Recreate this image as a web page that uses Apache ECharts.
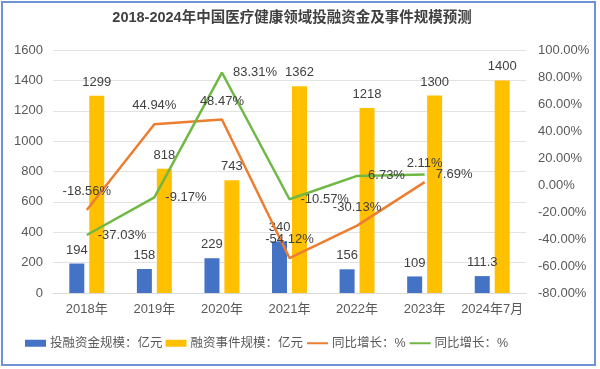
<!DOCTYPE html>
<html><head><meta charset="utf-8">
<script src="https://cdn.jsdelivr.net/npm/echarts@6/dist/echarts.min.js"></script>
<style>html,body{margin:0;padding:0;background:#fff}#c{width:600px;height:369px}</style>
</head><body><div id="c"></div>
<script>
var categories = ['2018年','2019年','2020年','2021年','2022年','2023年','2024年7月'];
var fundScale = [194,158,229,340,156,109,111.3];
var eventScale = [1299,818,743,1362,1218,1300,1400];
var fundGrowth = [-18.56,44.94,48.47,-54.12,-30.13,2.11,null];
var eventGrowth = [-37.03,-9.17,83.31,-10.57,6.73,7.69,null];
var leftTicks = {min:0,max:1600,interval:200};
var rightTicks = {min:-80,max:100,interval:20};

var font = '"Liberation Sans","Noto Sans CJK SC",sans-serif';
var chart = echarts.init(document.getElementById('c'));
var lblColor = '#404040';
function pct(p){return (p.value==null)?'':p.value.toFixed(2)+'%';}
chart.setOption({
  animation:false,
  textStyle:{fontFamily:font},
  title:{text:'2018-2024年中国医疗健康领域投融资金及事件规模预测',left:287,textAlign:'center',top:6,
    textStyle:{fontSize:14.5,fontWeight:'bold',color:'#404040',fontFamily:font}},
  graphic:[{type:'rect',shape:{x:2,y:2,width:593,height:363},style:{fill:null,stroke:'#6F93D4',lineWidth:2},z:100}],
  legend:{left:20,top:332,itemGap:3,itemWidth:21,itemHeight:7,
    textStyle:{fontSize:12.5,color:'#595959',fontFamily:font,padding:[0,0,0,-1]},
    data:[{name:'投融资金规模：亿元',icon:'rect'},{name:'融资事件规模：亿元',icon:'rect'},
      {name:'同比增长：%'},{name:'同比增长：% '}]},
  grid:{left:53,right:74,top:50,bottom:76},
  xAxis:{type:'category',data:categories,
    axisLine:{lineStyle:{color:'#D9D9D9'}},axisTick:{show:false},
    axisLabel:{color:'#595959',fontSize:13,margin:10,interval:0}},
  yAxis:[{type:'value',min:leftTicks.min,max:leftTicks.max,interval:leftTicks.interval,
      axisLabel:{color:'#595959',fontSize:13,margin:10,formatter:function(v){return String(v);}},
      splitLine:{lineStyle:{color:'#E3E3E3'}},axisLine:{show:false},axisTick:{show:false}},
    {type:'value',min:rightTicks.min,max:rightTicks.max,interval:rightTicks.interval,
      axisLabel:{color:'#595959',fontSize:13,margin:12,formatter:function(v){return v.toFixed(2)+'%';}},
      splitLine:{show:false},axisLine:{show:false},axisTick:{show:false}}],
  series:[
    {name:'投融资金规模：亿元',type:'bar',data:fundScale,barWidth:15,barGap:'33%',
      itemStyle:{color:'#4472C4'},
      label:{show:true,position:'top',distance:7,color:lblColor,fontSize:13}},
    {name:'融资事件规模：亿元',type:'bar',data:eventScale,barWidth:15,
      itemStyle:{color:'#FFC000'},
      label:{show:true,position:'top',distance:7,color:lblColor,fontSize:13}},
    {name:'同比增长：%',type:'line',yAxisIndex:1,data:fundGrowth,showSymbol:true,symbol:'circle',symbolSize:2,
      lineStyle:{color:'#ED7D31',width:2.5},itemStyle:{color:'transparent',borderWidth:0},
      label:{show:true,position:'top',distance:11,color:lblColor,fontSize:13,formatter:pct}},
    {name:'同比增长：% ',type:'line',yAxisIndex:1,data:eventGrowth,showSymbol:true,symbol:'circle',symbolSize:2,
      lineStyle:{color:'#70B844',width:2.5},itemStyle:{color:'transparent',borderWidth:0},
      label:{show:true,position:'right',distance:10,color:lblColor,fontSize:13,formatter:pct}}
  ]
});
</script></body></html>
